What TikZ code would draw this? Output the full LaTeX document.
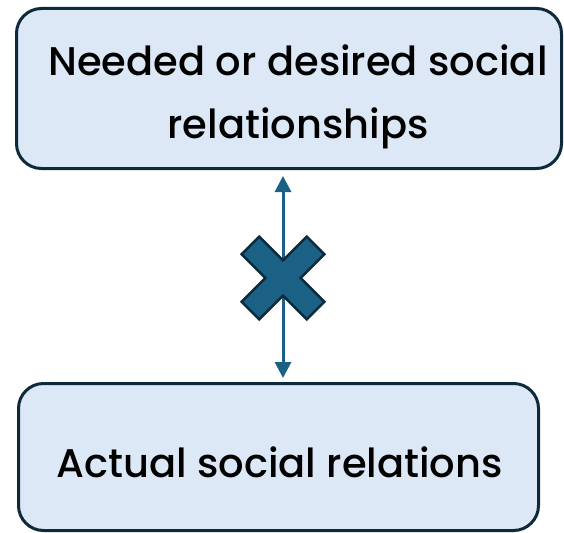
\documentclass[tikz,border=0pt]{standalone}
\usepackage{fontspec}
\setmainfont{Poppins Medium}
\usetikzlibrary{arrows.meta}
\definecolor{boxfill}{HTML}{DCE8F5}
\definecolor{boxline}{HTML}{0D2A3B}
\definecolor{crossblue}{HTML}{1B6185}
\begin{document}
\begin{tikzpicture}[x=1pt,y=-1pt,
    box/.style={draw=boxline,line width=3pt,fill=boxfill,rounded corners=25pt},
    boxtext/.style={align=center,font=\fontsize{40}{63}\selectfont},
    link/.style={{Triangle[length=16pt,width=16pt]}-{Triangle[length=16pt,width=16pt]},line width=3pt,draw=crossblue,fill=crossblue}]
    \useasboundingbox (0,0) rectangle (564,532);
    \node[box,minimum width=545pt,minimum height=160pt] (need) at (289,88.5) {};
    \node[boxtext] (needtxt) at ([xshift=9pt,yshift=-8pt]need) {Needed or desired social\\relationships};
    \node[box,minimum width=520pt,minimum height=147pt] (act) at (278.5,457) {};
    \node[boxtext] (acttxt) at ([xshift=1pt,yshift=-5pt]act) {Actual social relations};
    \coordinate (x) at (283,278);
    \draw[link,shorten <=6pt,shorten >=4pt] (need.south -| x) -- (act.north -| x);
    \draw[draw=boxline,fill=crossblue,line width=2.5pt,shift={(x)},rotate=45] (-46,-12.5) -- (-12.5,-12.5) -- (-12.5,-46) -- (12.5,-46) -- (12.5,-12.5) -- (46,-12.5) -- (46,12.5) -- (12.5,12.5) -- (12.5,46) -- (-12.5,46) -- (-12.5,12.5) -- (-46,12.5) -- cycle;
\end{tikzpicture}
\end{document}
